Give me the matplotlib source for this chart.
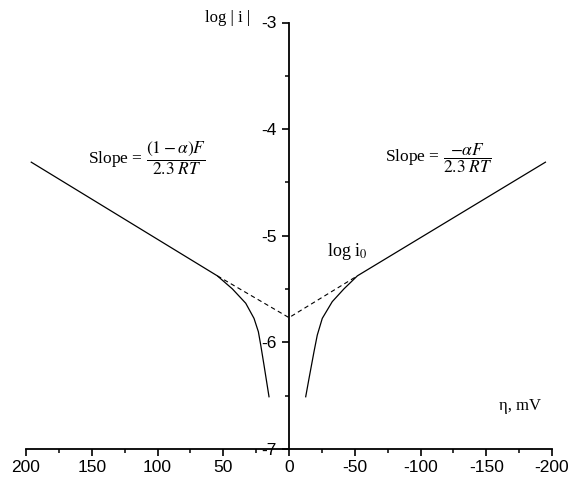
import numpy as np
import matplotlib.pyplot as plt
from matplotlib.ticker import MultipleLocator

# anodic branch (positive overpotential, plotted on the left)
eta_anodic = [196, 54.5, 43.1, 32.9, 26.6, 23.3, 21.5, 19.0, 15.2]
logi_anodic = [-4.31, -5.376, -5.498, -5.633, -5.775, -5.90, -6.025, -6.214, -6.51]

# cathodic branch (negative overpotential, plotted on the right)
eta_cathodic = [-195, -52, -41.8, -32.9, -25.3, -21.5, -19.0, -15.2, -12.7]
logi_cathodic = [-4.31, -5.376, -5.498, -5.618, -5.775, -5.932, -6.088, -6.34, -6.51]

# Tafel extrapolation to log i0
eta_extrap = [54.5, 0, -52]
logi_extrap = [-5.376, -5.768, -5.376]

serif = ["Liberation Serif", "DejaVu Serif"]
plt.rcParams["font.family"] = ["Liberation Sans", "DejaVu Sans"]
plt.rcParams["mathtext.fontset"] = "stix"
plt.rcParams["axes.unicode_minus"] = False

fig = plt.figure(figsize=(5.7, 4.79), dpi=100)
ax = fig.add_axes([26 / 570, 1 - 449 / 479, 526 / 570, 426.5 / 479])

ax.plot(eta_anodic, logi_anodic, color="black", lw=0.9)
ax.plot(eta_cathodic, logi_cathodic, color="black", lw=0.9)
ax.plot(eta_extrap, logi_extrap, color="black", lw=0.8, ls=(0, (4, 3)))

ax.set_xlim(200, -200)
ax.set_ylim(-7, -3)

ax.spines["top"].set_visible(False)
ax.spines["right"].set_visible(False)
ax.spines["left"].set_position(("data", 0))
ax.spines["left"].set_linewidth(1.3)
ax.spines["bottom"].set_linewidth(1.3)

ax.xaxis.set_major_locator(MultipleLocator(50))
ax.xaxis.set_minor_locator(MultipleLocator(25))
ax.yaxis.set_major_locator(MultipleLocator(1))
ax.yaxis.set_minor_locator(MultipleLocator(0.5))
ax.tick_params(which="major", length=5, width=1.2, labelsize=12.5, direction="out", pad=3)
ax.tick_params(which="minor", length=3, width=1.1, direction="out")
ax.yaxis.set_tick_params(which="major", pad=4)

ax.text(108, -4.27, r"Slope = $\dfrac{(1-\alpha)F}{2.3\ RT}$", family=serif,
        fontsize=12.5, ha="center", va="center")
ax.text(-114, -4.27, r"Slope = $\dfrac{-\alpha F}{2.3\ RT}$", family=serif,
        fontsize=12.5, ha="center", va="center")
ax.text(-44, -5.15, r"log i$_0$", family=serif, fontsize=13, ha="center", va="center")
ax.text(47, -2.96, "log | i |", family=serif, fontsize=12, ha="center", va="center")
ax.text(-176, -6.6, "η, mV", family=serif, fontsize=12, ha="center", va="center")

fig.savefig("out.png", dpi=100)
